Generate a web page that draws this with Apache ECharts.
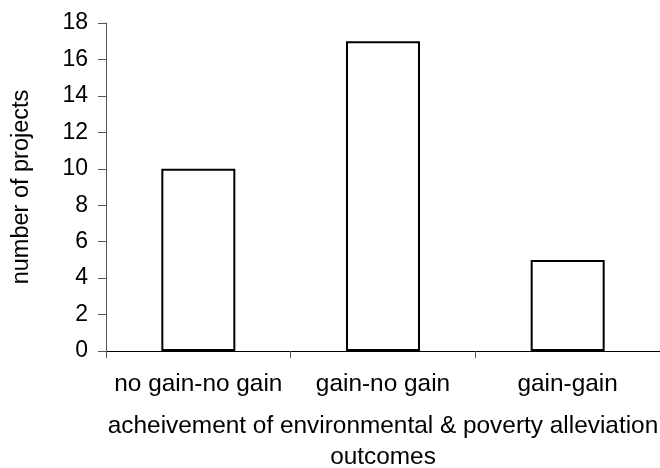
<!DOCTYPE html>
<html>
<head>
<meta charset="utf-8">
<script src="https://cdn.jsdelivr.net/npm/echarts@6/dist/echarts.min.js"></script>
<style>html,body{margin:0;padding:0;background:#fff;overflow:hidden}#c{width:660px;height:468px}</style>
</head>
<body>
<div id="c"></div>
<script>
var categories = ['no gain-no gain', 'gain-no gain', 'gain-gain'];
var projects = [10, 17, 5];
var yTicks = {min: 0, max: 18, interval: 2};

var chart = echarts.init(document.getElementById('c'), null, {renderer: 'canvas'});
var font = 'Arial, "Liberation Sans", sans-serif';
chart.setOption({
  animation: false,
  backgroundColor: '#fff',
  grid: {left: 106, right: 0, top: 23, bottom: 117, containLabel: false, outerBoundsMode: 'none'},
  xAxis: {
    type: 'category',
    data: categories,
    name: 'acheivement of environmental & poverty alleviation\noutcomes',
    nameLocation: 'middle',
    nameGap: 60,
    nameTextStyle: {fontFamily: font, fontSize: 24.4, color: '#000', lineHeight: 31, verticalAlign: 'top'},
    axisLine: {lineStyle: {color: '#000', width: 1}},
    axisTick: {show: true, length: 7, lineStyle: {color: '#555'}},
    axisLabel: {fontFamily: font, fontSize: 24.4, color: '#000', margin: 21, interval: 0, hideOverlap: false}
  },
  yAxis: {
    type: 'value',
    min: yTicks.min, max: yTicks.max, interval: yTicks.interval,
    name: 'number of projects',
    nameLocation: 'middle',
    nameGap: 72,
    nameTextStyle: {fontFamily: font, fontSize: 23.5, color: '#000'},
    axisLine: {show: true, lineStyle: {color: '#555', width: 1}},
    axisTick: {show: true, length: 8, lineStyle: {color: '#555'}},
    axisLabel: {fontFamily: font, fontSize: 23, color: '#000', margin: 18},
    splitLine: {show: false}
  },
  series: [{
    type: 'bar',
    data: projects,
    barWidth: 74,
    itemStyle: {color: '#fff', borderColor: '#000', borderWidth: 2}
  }]
});
</script>
</body>
</html>
